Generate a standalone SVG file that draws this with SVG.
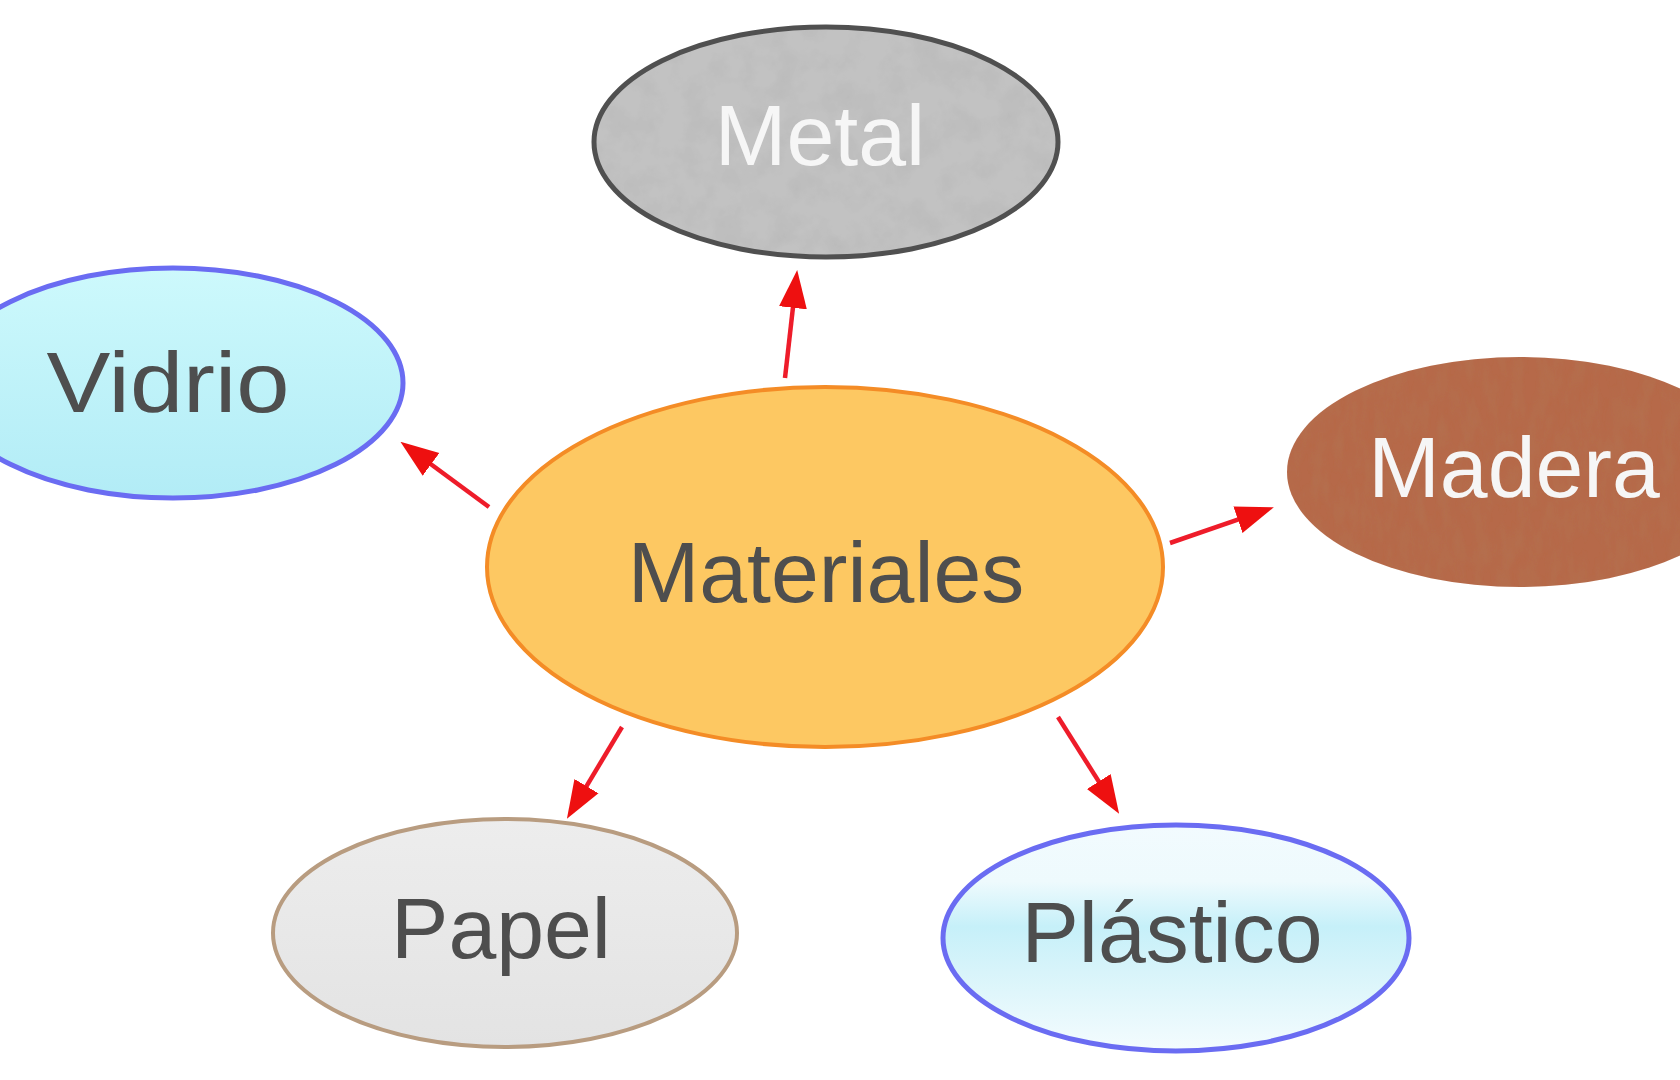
<svg xmlns="http://www.w3.org/2000/svg" width="1680" height="1080" viewBox="0 0 1680 1080">
  <style>
    .lbl { font-family: "Liberation Sans", Arial, sans-serif; font-size: 86px; text-anchor: middle; }
    .dark { fill: #4e4e4e; }
    .light { fill: #f6f6f6; }
    .conn { stroke: #ee1c2a; stroke-width: 4.5; fill: none; marker-end: url(#arrow); }
  </style>
  <defs>
    <marker id="arrow" markerUnits="userSpaceOnUse" markerWidth="38" markerHeight="30" refX="6" refY="15" orient="auto">
      <path d="M0,1 L38,15 L0,29 Z" fill="#ee1010"/>
    </marker>
    <linearGradient id="gVidrio" x1="0" y1="0" x2="0" y2="1">
      <stop offset="0" stop-color="#cdf9fc"/>
      <stop offset="1" stop-color="#b2ecf6"/>
    </linearGradient>
    <linearGradient id="gPlastico" x1="0" y1="0" x2="0" y2="1">
      <stop offset="0" stop-color="#f2fbfe"/>
      <stop offset="0.25" stop-color="#eefafd"/>
      <stop offset="0.45" stop-color="#c6f0f9"/>
      <stop offset="0.65" stop-color="#d8f4fa"/>
      <stop offset="1" stop-color="#f4fcfe"/>
    </linearGradient>
    <linearGradient id="gPapel" x1="0" y1="0" x2="0" y2="1">
      <stop offset="0" stop-color="#ededed"/>
      <stop offset="1" stop-color="#e3e3e3"/>
    </linearGradient>
    <filter id="grain" x="0" y="0" width="1" height="1">
      <feTurbulence type="fractalNoise" baseFrequency="0.035" numOctaves="4" seed="5" result="n"/>
      <feColorMatrix in="n" type="matrix" values="0 0 0 0 0.35  0 0 0 0 0.35  0 0 0 0 0.35  0 0 0 0.5 -0.2" result="d"/>
      <feComposite in="d" in2="SourceGraphic" operator="in" result="dc"/>
      <feMerge><feMergeNode in="SourceGraphic"/><feMergeNode in="dc"/></feMerge>
    </filter>
    <filter id="grainWood" x="0" y="0" width="1" height="1">
      <feTurbulence type="fractalNoise" baseFrequency="0.08 0.03" numOctaves="3" seed="9" result="n"/>
      <feColorMatrix in="n" type="matrix" values="0 0 0 0 0.45  0 0 0 0 0.2  0 0 0 0 0.1  0 0 0 0.6 -0.2" result="d"/>
      <feComposite in="d" in2="SourceGraphic" operator="in" result="dc"/>
      <feMerge><feMergeNode in="SourceGraphic"/><feMergeNode in="dc"/></feMerge>
    </filter>
  </defs>
  <rect width="1680" height="1080" fill="#ffffff"/>

  <g id="connectors">
    <line class="conn" x1="785" y1="378" x2="793.6" y2="301.8"/>
    <line class="conn" x1="489" y1="507" x2="426.2" y2="460.8"/>
    <line class="conn" x1="1170" y1="543" x2="1243.6" y2="517.7"/>
    <line class="conn" x1="622" y1="727" x2="583.4" y2="791.3"/>
    <line class="conn" x1="1058" y1="717" x2="1102" y2="786.6"/>
  </g>

  <g id="metal">
    <ellipse cx="826" cy="142" rx="232" ry="115" fill="#c2c2c2" filter="url(#grain)"/>
    <ellipse cx="826" cy="142" rx="232" ry="115" fill="none" stroke="#505050" stroke-width="5"/>
    <text class="lbl light" x="820" y="165">Metal</text>
  </g>

  <g id="vidrio">
    <ellipse cx="173" cy="383" rx="230" ry="115" fill="url(#gVidrio)" stroke="#6a6cf2" stroke-width="5"/>
    <text class="lbl dark" x="168" y="412" textLength="243" lengthAdjust="spacingAndGlyphs">Vidrio</text>
  </g>

  <g id="madera">
    <ellipse cx="1520" cy="472" rx="233" ry="115" fill="#b6694a" filter="url(#grainWood)"/>
    <text class="lbl light" x="1514" y="497">Madera</text>
  </g>

  <g id="materiales">
    <ellipse cx="825" cy="567" rx="338" ry="180" fill="#fdc862" stroke="#f48c26" stroke-width="4"/>
    <text class="lbl dark" x="826" y="602">Materiales</text>
  </g>

  <g id="papel">
    <ellipse cx="505" cy="933" rx="232" ry="114" fill="url(#gPapel)" stroke="#b89c80" stroke-width="4"/>
    <text class="lbl dark" x="501" y="958">Papel</text>
  </g>

  <g id="plastico">
    <ellipse cx="1176" cy="938" rx="233" ry="113" fill="url(#gPlastico)" stroke="#6a6cf2" stroke-width="5"/>
    <text class="lbl dark" x="1172" y="962">Plástico</text>
  </g>
</svg>
